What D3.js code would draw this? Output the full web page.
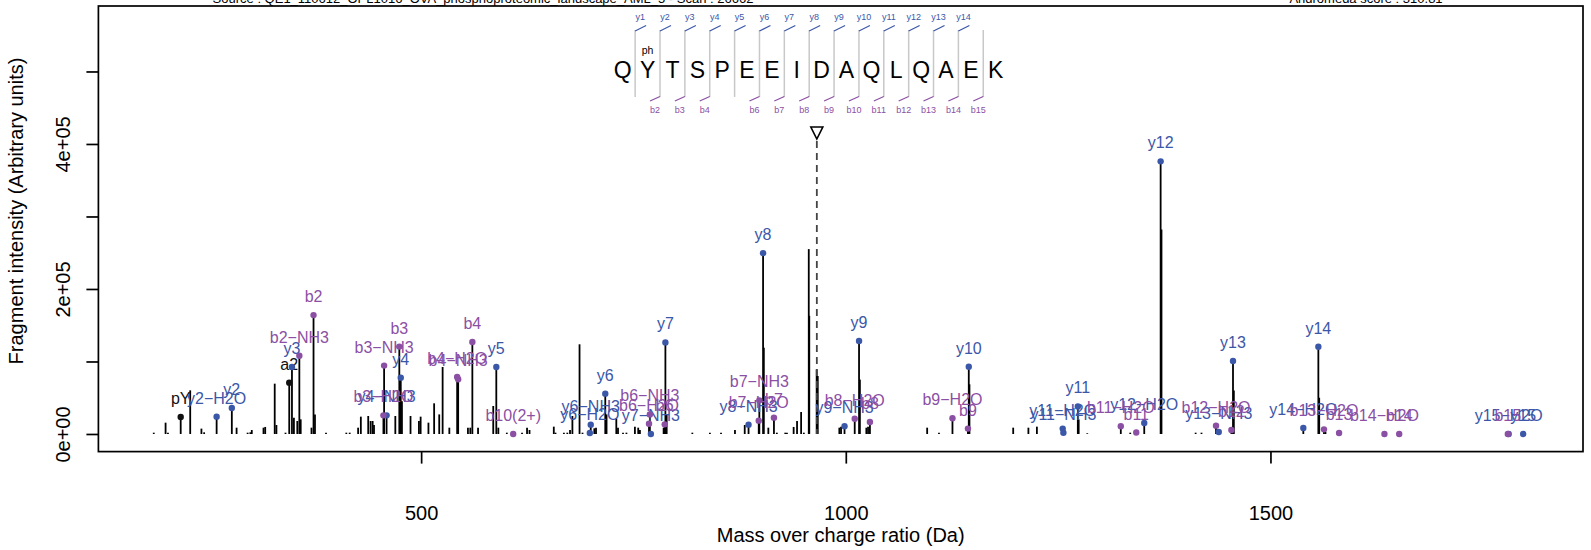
<!DOCTYPE html>
<html>
<head>
<meta charset="utf-8">
<script src="https://cdn.jsdelivr.net/npm/d3@7"></script>
<style>
  body { margin: 0; background: #fff; }
  svg { display: block; font-family: "Liberation Sans", Arial, Helvetica, sans-serif; }
</style>
</head>
<body>
<div id="chart"></div>
<script>
// peptide and header info
const sequence = ["Q", "Y", "T", "S", "P", "E", "E", "I", "D", "A", "Q", "L", "Q", "A", "E", "K"];
const modSite = 1;
const modLabel = "ph";
const yCovered = [1, 2, 3, 4, 5, 6, 7, 8, 9, 10, 11, 12, 13, 14];
const bCovered = [2, 3, 4, 6, 7, 8, 9, 10, 11, 12, 13, 14, 15];
const precursorMz = 965.9;
const sourceText = "Source : QE1_110612_OPL1016_OVA_phosphoproteomic_landscape_AML_5 - Scan : 26662";
const scoreText = "Andromeda score : 310.81";

// unannotated peaks [m/z, intensity]
const peaks = [
  [185.2, 1800], [199.1, 15600], [201.9, 1800], [228.1, 60200], [241.3, 7400], [244.5, 2300],
  [282.7, 8700], [295.7, 1800], [298.9, 2300], [300.6, 5500], [314.4, 8700], [316.4, 9700],
  [327.6, 69400], [329.6, 12400], [340.3, 1800], [350.2, 22500], [354.2, 17900], [358.2, 20200],
  [370.9, 8700], [375.0, 27000], [388.0, 1800], [411.9, 1800], [415.9, 1800], [425.8, 8700],
  [429.0, 23900], [437.7, 24800], [440.5, 17900], [442.9, 17900], [444.5, 12400], [469.6, 24800],
  [477.4, 45000], [487.5, 24800], [497.4, 17900], [499.4, 23900], [508.6, 15600], [515.3, 42300],
  [521.3, 27000], [525.3, 92400], [533.2, 8700], [555.1, 8700], [557.9, 8700], [567.0, 8700],
  [584.9, 38600], [590.9, 8700], [600.9, 1800], [618.8, 1800], [624.7, 8700], [627.6, 5500],
  [656.2, 10100], [658.2, 1800], [668.1, 1800], [672.1, 1800], [675.3, 5500], [678.1, 24800],
  [686.5, 123700], [690.0, 1800], [703.9, 7800], [705.9, 8700], [718.3, 27000], [729.8, 21100],
  [731.8, 8700], [737.7, 1800], [741.7, 1800], [751.7, 10100], [755.6, 8700], [757.6, 5500],
  [785.5, 8700], [789.1, 27000], [819.3, 1800], [840.0, 1800], [853.1, 1800], [869.5, 5500],
  [881.0, 12400], [903.5, 119000], [908.8, 8700], [918.8, 1800], [928.7, 1800], [930.7, 1800],
  [938.6, 9700], [942.6, 17900], [947.4, 30300], [950.6, 1800], [956.4, 255000], [957.0, 163000],
  [965.7, 89000], [967.0, 80000], [992.4, 8700], [994.4, 9900], [1016.6, 75000], [1024.2, 8700],
  [1026.2, 9900], [1095.8, 8700], [1109.7, 1800], [1145.6, 68500], [1197.1, 8700], [1215.0, 8700],
  [1225.0, 10100], [1274.2, 20000], [1284.3, 1000], [1334.9, 1800], [1371.7, 282000], [1411.9, 1800],
  [1418.8, 1800], [1456.9, 60000], [1557.4, 50000], [1564.8, 3000]
];

// annotated fragments [label, m/z, intensity]
const otherIons = [["pY", 216.9, 23400], ["a2", 344.7, 70800]];
const yIons = [
  ["y2−H2O", 259.2, 23900], ["y2", 277.1, 35900], ["y3", 347.9, 92400],
  ["y4−NH3", 459.3, 25700], ["y4", 476.0, 77700], ["y5", 588.5, 92400],
  ["y6−H2O", 698.6, 1400], ["y6−NH3", 699.7, 12900], ["y6", 716.8, 55600],
  ["y7−NH3", 770.5, 0], ["y7", 787.6, 126300], ["y8−NH3", 885.5, 12900],
  ["y8", 902.6, 249400], ["y9−NH3", 998.5, 10600], ["y9", 1015.6, 128200],
  ["y10", 1144.8, 92800], ["y11−H2O", 1255.4, 7400], ["y11−NH3", 1256.2, 1800],
  ["y11", 1273.2, 38000], ["y12−H2O", 1351.4, 15200], ["y12", 1370.7, 376000],
  ["y13−NH3", 1439.1, 2700], ["y13", 1455.9, 100700], ["y14−H2O", 1538.7, 8300],
  ["y14", 1556.4, 120400], ["y15−H2O", 1780.5, 0], ["y15", 1797.6, 0]
];
const bIons = [
  ["b2−NH3", 356.6, 108000], ["b2", 373.3, 164000], ["b3−H2O", 455.6, 25700],
  ["b3−NH3", 456.4, 94300], ["b3", 474.3, 120500], ["b4−H2O", 542.4, 78600],
  ["b4−NH3", 543.6, 75400], ["b4", 560.3, 126900], ["b10(2+)", 608.4, 0],
  ["b6−H2O", 768.3, 14200], ["b6−NH3", 769.3, 27000], ["b6", 786.8, 13300],
  ["b7−H2O", 897.5, 18400], ["b7−NH3", 898.2, 46400], ["b7", 915.4, 22500],
  ["b8−H2O", 1010.5, 21100], ["b8", 1028.4, 16600], ["b9−H2O", 1125.6, 21800],
  ["b9", 1143.8, 7400], ["b11−H2O", 1323.8, 10600], ["b11", 1342.0, 2000],
  ["b12−H2O", 1435.9, 11500], ["b12", 1454.0, 5500], ["b13−H2O", 1563.0, 6400],
  ["b13", 1580.8, 1400], ["b14−H2O", 1634.2, 0], ["b14", 1651.6, 0], ["b15", 1779.5, 0]
];

// axes
const xTicks = [500, 1000, 1500];
const yTicks = [0, 100000, 200000, 300000, 400000, 500000];
const yTickLabels = ["0e+00", "", "2e+05", "", "4e+05", ""];
const xTitle = "Mass over charge ratio (Da)";
const yTitle = "Fragment intensity (Arbitrary units)";

function spectrum() {
  var w = 1591;
  var h = 550;
  var left = 98.4, right = 1583, top = 6, bottom = 451.6;
  var blue = "#3b57a8";
  var purple = "#8b4fa4";

  const svg = d3.select("#chart").append("svg")
    .attr("width", w).attr("height", h);

  // scales
  const x = d3.scaleLinear().domain([120, 1868]).range([left, right]);
  const y = d3.scaleLinear().domain([-24300, 590300]).range([bottom, top]);

  // header texts (cut at the top edge)
  svg.append("text").attr("x", 483).attr("y", 2.5)
    .attr("text-anchor", "middle").attr("font-size", 13).text(sourceText);
  svg.append("text").attr("x", 1366).attr("y", 2.5)
    .attr("text-anchor", "middle").attr("font-size", 13).text(scoreText);

  // x axis
  const xAxis = svg.append("g")
    .attr("transform", "translate(0," + bottom + ")")
    .call(d3.axisBottom(x).tickValues(xTicks).tickSize(12).tickFormat(d3.format("d")));
  xAxis.select(".domain").remove();
  xAxis.selectAll(".tick line").attr("stroke-width", 1.7);
  xAxis.selectAll(".tick text")
    .attr("y", 61).attr("dy", "0.35em")
    .attr("font-size", 20).attr("font-family", "Liberation Sans, Arial, sans-serif").attr("fill", "#000");

  // y axis
  const yAxis = svg.append("g")
    .attr("transform", "translate(" + left + ",0)")
    .call(d3.axisLeft(y).tickValues(yTicks).tickSize(12).tickFormat((d, i) => yTickLabels[i]));
  yAxis.select(".domain").remove();
  yAxis.selectAll(".tick line").attr("stroke-width", 1.7);
  yAxis.selectAll(".tick text")
    .attr("x", 0).attr("y", 0).attr("dy", "0.35em")
    .attr("text-anchor", "middle")
    .attr("transform", "translate(-35,0) rotate(-90)")
    .attr("font-size", 20).attr("font-family", "Liberation Sans, Arial, sans-serif").attr("fill", "#000");

  // axis titles
  svg.append("text").attr("x", (left + right) / 2).attr("y", 535).attr("dy", "0.35em")
    .attr("text-anchor", "middle").attr("font-size", 20).text(xTitle);
  svg.append("text").attr("transform", "translate(16,211) rotate(-90)").attr("dy", "0.35em")
    .attr("text-anchor", "middle").attr("font-size", 20).text(yTitle);

  // frame
  svg.append("rect")
    .attr("x", left).attr("y", top)
    .attr("width", right - left).attr("height", bottom - top)
    .attr("fill", "none").attr("stroke", "#000").attr("stroke-width", 1.7);

  // peak stems (all peaks incl. annotated ones)
  const stems = peaks.concat(
    otherIons.map(d => [d[1], d[2]]),
    yIons.map(d => [d[1], d[2]]),
    bIons.map(d => [d[1], d[2]])
  );
  svg.append("g").selectAll("line").data(stems).join("line")
    .attr("x1", d => x(d[0])).attr("x2", d => x(d[0]))
    .attr("y1", y(0)).attr("y2", d => y(d[1]))
    .attr("stroke", "#000").attr("stroke-width", 1.8);

  // precursor marker
  var px = x(precursorMz);
  svg.append("line")
    .attr("x1", px).attr("x2", px).attr("y1", 141).attr("y2", y(0))
    .attr("stroke", "#444").attr("stroke-width", 1.8).attr("stroke-dasharray", "7,5");
  svg.append("path")
    .attr("d", `M${px - 6},127 L${px + 6},127 L${px},139 Z`)
    .attr("fill", "none").attr("stroke", "#000").attr("stroke-width", 1.6);

  // annotated points + labels
  function drawIons(data, color) {
    const g = svg.append("g");
    g.selectAll("circle").data(data).join("circle")
      .attr("cx", d => x(d[1])).attr("cy", d => y(d[2])).attr("r", 3.2)
      .attr("fill", color);
    g.selectAll("text").data(data).join("text")
      .attr("x", d => x(d[1])).attr("y", d => y(d[2]) - 13)
      .attr("text-anchor", "middle").attr("font-size", 16)
      .attr("fill", color).text(d => d[0]);
  }
  drawIons(otherIons, "#111");
  drawIons(yIons, blue);
  drawIons(bIons, purple);

  // peptide sequence with fragment coverage
  const seqX = d3.scalePoint().domain(d3.range(sequence.length)).range([622.7, 995.7]);
  const sep = k => (seqX(k - 1) + seqX(k)) / 2;
  const seq = svg.append("g");

  seq.selectAll("line.sep").data(d3.range(1, sequence.length)).join("line")
    .attr("class", "sep")
    .attr("x1", sep).attr("x2", sep).attr("y1", 30).attr("y2", 97)
    .attr("stroke", "#c8c8c8").attr("stroke-width", 1.5);

  seq.selectAll("text.aa").data(sequence).join("text")
    .attr("class", "aa")
    .attr("x", (d, i) => seqX(i)).attr("y", 77.5)
    .attr("text-anchor", "middle").attr("font-size", 23).text(d => d);

  seq.append("text").attr("x", seqX(modSite)).attr("y", 54)
    .attr("text-anchor", "middle").attr("font-size", 10.5).text(modLabel);

  seq.selectAll("line.yt").data(yCovered).join("line")
    .attr("class", "yt")
    .attr("x1", sep).attr("x2", k => sep(k) + 11).attr("y1", 31).attr("y2", 25.5)
    .attr("stroke", blue).attr("stroke-width", 1.2);
  seq.selectAll("text.yl").data(yCovered).join("text")
    .attr("class", "yl")
    .attr("x", k => sep(k) + 5).attr("y", 20)
    .attr("text-anchor", "middle").attr("font-size", 9).attr("fill", blue)
    .text(k => "y" + k);

  seq.selectAll("line.bt").data(bCovered).join("line")
    .attr("class", "bt")
    .attr("x1", sep).attr("x2", k => sep(k) - 10).attr("y1", 96.5).attr("y2", 101)
    .attr("stroke", purple).attr("stroke-width", 1.2);
  seq.selectAll("text.bl").data(bCovered).join("text")
    .attr("class", "bl")
    .attr("x", k => sep(k) - 5).attr("y", 113)
    .attr("text-anchor", "middle").attr("font-size", 9).attr("fill", purple)
    .text(k => "b" + k);
}

spectrum();
</script>
</body>
</html>
